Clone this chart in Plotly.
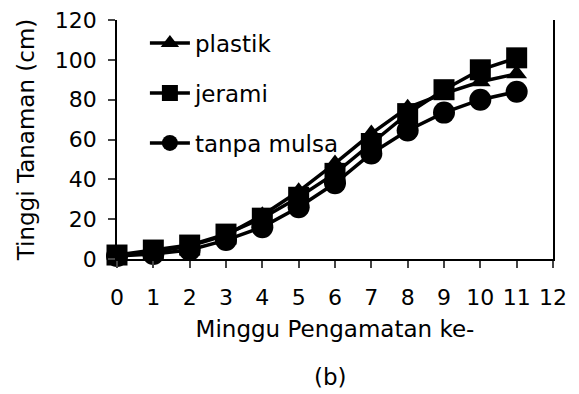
import plotly.graph_objects as go

weeks = list(range(12))
plastik = [2, 3.5, 6.5, 12, 22, 34, 48, 63, 76, 83, 89, 93]
jerami = [2, 4.5, 7, 12.5, 20.5, 31, 43, 58, 73, 85, 95, 101]
tanpa_mulsa = [1.5, 2.5, 4.5, 9.5, 16, 26, 38, 53, 64.5, 73.5, 80, 84]
x_ticks = list(range(13))
y_ticks = [0, 20, 40, 60, 80, 100, 120]

FONT = "DejaVu Sans"
series = [
    ("plastik", plastik, "triangle-up", 18),
    ("jerami", jerami, "square", 21),
    ("tanpa mulsa", tanpa_mulsa, "circle", 22),
]

fig = go.Figure()
for i, (name, vals, sym, size) in enumerate(series):
    fig.add_trace(go.Scatter(
        x=weeks, y=vals, name=name, mode="lines+markers",
        line=dict(color="black", width=3.5),
        marker=dict(symbol=sym, size=size, color="black"),
        cliponaxis=False, legendgroup=f"g{i}",
    ))

fig.update_layout(
    width=579, height=394,
    margin=dict(l=117, r=26, t=20, b=135),
    paper_bgcolor="white", plot_bgcolor="white",
    font=dict(family=FONT, size=22, color="black"),
    showlegend=True,
    legend=dict(x=0.064, y=0.993, xanchor="left", yanchor="top",
                bgcolor="rgba(0,0,0,0)", font=dict(size=23),
                tracegroupgap=17, itemwidth=40),
    xaxis=dict(range=[0, 12], tickvals=x_ticks, ticks="outside", ticklen=7,
               tickwidth=1.5, showline=True, linewidth=1.5, linecolor="black",
               showgrid=False, zeroline=False, ticklabelstandoff=11, automargin=False,
               title=dict(text="Minggu Pengamatan ke-", font=dict(size=23), standoff=12)),
    yaxis=dict(range=[0, 120], tickvals=y_ticks, ticks="outside", ticklen=7,
               tickwidth=1.5, showline=True, linewidth=1.5, linecolor="black",
               mirror=True, showgrid=False, zeroline=False, ticklabelstandoff=7, automargin=False,
               title=dict(text="Tinggi Tanaman (cm)", font=dict(size=23), standoff=14)),
    annotations=[dict(text="(b)", xref="paper", yref="paper", x=0.49, y=-0.43,
                      showarrow=False, font=dict(size=23), xanchor="center", yanchor="top")],
)

fig.write_html("out.html", config={"displayModeBar": False},
               post_script="document.body.style.margin='0';document.body.style.overflow='hidden';")
